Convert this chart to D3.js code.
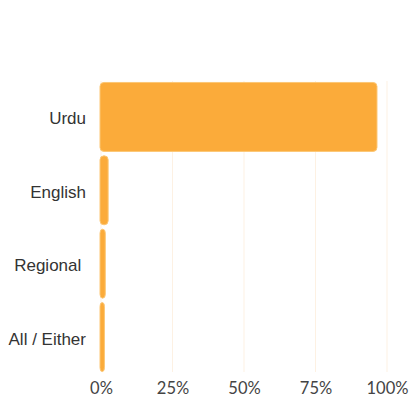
<!DOCTYPE html>
<html>
<head>
<meta charset="utf-8">
<script src="https://cdn.jsdelivr.net/npm/d3@7"></script>
<style>
  body { margin: 0; background: #fff; }
  .cat text { font-family: "Liberation Sans", Arial, sans-serif; font-size: 17px; fill: #333; white-space: pre; }
  .tick-lbl { font-family: Lato, sans-serif; font-size: 16.5px; fill: #444; }
</style>
</head>
<body>
<div id="chart"></div>
<script>
// values
const categories = ['Urdu', 'English', 'Regional ', 'All / Either'];
const shares = [96.5, 2.5, 1.5, 1.2];
const tickValues = [0, 25, 50, 75, 100];

const W = 411, H = 401;

const svg = d3.select('#chart')
    .append('svg')
    .attr('width', W)
    .attr('height', H);

const x = d3.scaleLinear().domain([0, 100]).range([101, 387]);
const y = d3.scaleBand().domain(categories).range([81, 373]).paddingInner(0.06).paddingOuter(0.02);

// faint vertical gridlines
svg.append('g')
    .selectAll('line')
    .data(tickValues)
    .join('line')
    .attr('x1', d => x(d)).attr('x2', d => x(d))
    .attr('y1', 81).attr('y2', 372)
    .attr('stroke', '#fdf1e3')
    .attr('stroke-width', 1);

// bars
svg.append('g')
    .selectAll('rect')
    .data(categories)
    .join('rect')
    .attr('x', x(0) - 1)
    .attr('y', d => y(d))
    .attr('width', (d, i) => Math.max(x(shares[i]) - x(0) + 1, 4))
    .attr('height', y.bandwidth())
    .attr('rx', 4).attr('ry', 4)
    .attr('fill', '#fbab3a')
    .attr('stroke', '#fcc775')
    .attr('stroke-width', 1);

// category labels
const yAxis = d3.axisLeft(y).tickSize(0).tickPadding(0);
svg.append('g')
    .attr('class', 'cat')
    .attr('transform', 'translate(86,2)')
    .call(yAxis)
    .call(g => g.select('.domain').remove());

// percent tick labels
const xAxis = d3.axisBottom(x).tickValues(tickValues).tickSize(0).tickPadding(0).tickFormat(d => d + '%');
svg.append('g')
    .attr('transform', 'translate(0,382)')
    .call(xAxis)
    .call(g => g.select('.domain').remove())
    .call(g => g.selectAll('text').attr('class', 'tick-lbl').attr('fill', null).attr('dy', '0.71em'));
</script>
</body>
</html>
